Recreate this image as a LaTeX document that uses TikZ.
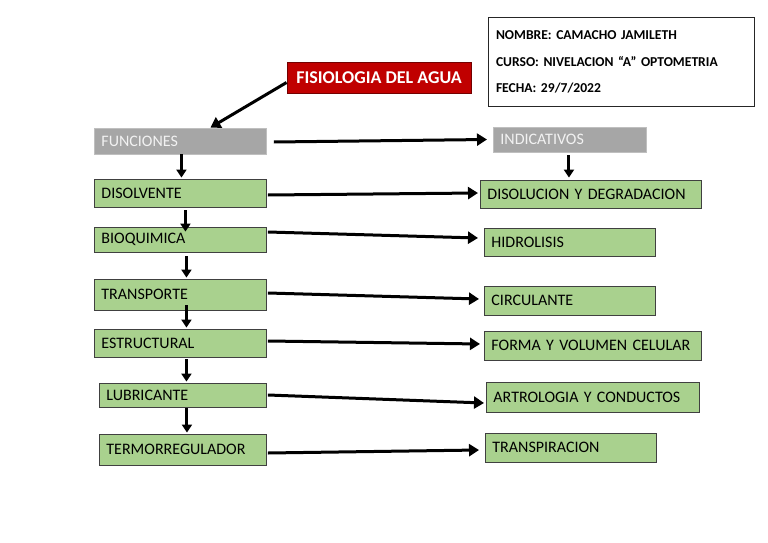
\documentclass[tikz,border=0pt]{standalone}
\usepackage{fontspec}
\setmainfont{Carlito}
\usetikzlibrary{arrows.meta,positioning,calc}
\definecolor{boxgreen}{HTML}{A9D18E}
\definecolor{boxgray}{HTML}{A6A6A6}
\definecolor{titlered}{HTML}{C00000}
\frenchspacing

\begin{document}
\begin{tikzpicture}[x=1pt,y=-1pt,
  gbox/.style={draw=black!75,line width=0.9pt,fill=boxgreen,anchor=west,inner xsep=7pt,inner ysep=1pt,align=left,font=\fontsize{16}{18}\selectfont},
  graybox/.style={draw=black!25,line width=0.9pt,fill=boxgray,text=white!95!black,anchor=west,inner xsep=7pt,inner ysep=1pt,align=left,font=\fontsize{16}{18}\selectfont},
  arr/.style={-{Triangle[length=10pt,width=12pt]},line width=3pt},
  varr/.style={-{Triangle[length=8pt,width=10pt]},line width=3pt}]
  \useasboundingbox (0,0) rectangle (768,543);
  % datos
  \node[draw=black!85,line width=1pt,fill=white,minimum width=266pt,minimum height=88pt,inner xsep=8pt,text width=250pt,align=left,font=\bfseries\fontsize{13.6}{26.3}\selectfont] (info) at (621,62)
    {NOMBRE: CAMACHO JAMILETH\\CURSO: NIVELACION ``A'' OPTOMETRIA\\FECHA: 29/7/2022\par\vspace{6pt}};
  \node[draw=titlered!60!black,line width=0.9pt,fill=titlered,text=white,minimum width=184pt,minimum height=31pt,inner sep=1pt,font=\bfseries\fontsize{18}{20}\selectfont] (fis) at (379,77.5) {FISIOLOGIA DEL AGUA};
  \node[graybox,text width=158pt,minimum height=26pt] (fun) at (94,141) {FUNCIONES};
  \node[graybox,text width=139pt,minimum height=25pt] (ind) at (493,139.5) {INDICATIVOS};
  % funciones
  \node[gbox,text width=158pt,minimum height=28pt] (dis) at (94,193) {DISOLVENTE};
  \node[gbox,text width=158pt,minimum height=25pt] (bio) at (94,239.5) {BIOQUIMICA};
  \node[gbox,text width=158pt,minimum height=31pt] (tra) at (94,294.5) {TRANSPORTE};
  \node[gbox,text width=158pt,minimum height=28pt] (est) at (94,343) {ESTRUCTURAL};
  \node[gbox,text width=153pt,minimum height=24pt] (lub) at (99,395) {LUBRICANTE};
  \node[gbox,text width=153pt,minimum height=31pt] (ter) at (99,449.5) {TERMORREGULADOR};
  % indicativos
  \node[gbox,text width=207pt,minimum height=28pt] (deg) at (480,194) {DISOLUCION Y DEGRADACION};
  \node[gbox,text width=157pt,minimum height=28pt] (hid) at (484,242) {HIDROLISIS};
  \node[gbox,text width=157pt,minimum height=29pt] (cir) at (484,300.5) {CIRCULANTE};
  \node[gbox,text width=203pt,minimum height=29pt] (for) at (484,345.5) {FORMA Y VOLUMEN CELULAR};
  \node[gbox,text width=199pt,minimum height=30pt] (art) at (486,397) {ARTROLOGIA Y CONDUCTOS};
  \node[gbox,text width=157pt,minimum height=29pt] (tsp) at (485,447.5) {TRANSPIRACION};
  % flechas
  \draw[arr] ($(fis.west)+(0,5)$) -- ($(fun.north)+(30,0)$);
  \draw[arr] ($(fun.east)+(7,1)$) -- ($(ind.west)+(-6,0)$);
  \draw[varr] ($(ind.south)+(-1,3)$) -- ($(deg.north)+(-22,-2)$);
  \draw[varr] ($(fun.south)+(1,0)$) -- ($(dis.north)+(1,-1)$);
  \draw[varr] ($(dis.south)+(5,3)$) -- ($(bio.north)+(5,5)$);
  \draw[varr] ($(bio.south)+(6,4)$) -- ($(tra.north)+(6,-1)$);
  \draw[varr] ($(tra.south)+(6,-5)$) -- ($(est.north)+(6,-1)$);
  \draw[varr] ($(est.south)+(6,2)$) -- ($(lub.north)+(3.5,-1)$);
  \draw[varr] ($(lub.south)+(4,1)$) -- ($(ter.north)+(4,-1)$);
  \draw[arr] ($(dis.east)+(1,2)$) -- ($(deg.west)+(-2,-1)$);
  \draw[arr] ($(bio.east)+(1,-7.5)$) -- ($(hid.west)+(-6,-4)$);
  \draw[arr] ($(tra.east)+(1,-1.5)$) -- ($(cir.west)+(-5,-1.5)$);
  \draw[arr] ($(est.east)+(1,-2)$) -- ($(for.west)+(-4,-1.5)$);
  \draw[arr] ($(lub.east)+(1,0)$) -- ($(art.west)+(-2,6)$);
  \draw[arr] ($(ter.east)+(1,3.5)$) -- ($(tsp.west)+(-6,2.5)$);
\end{tikzpicture}
\end{document}
